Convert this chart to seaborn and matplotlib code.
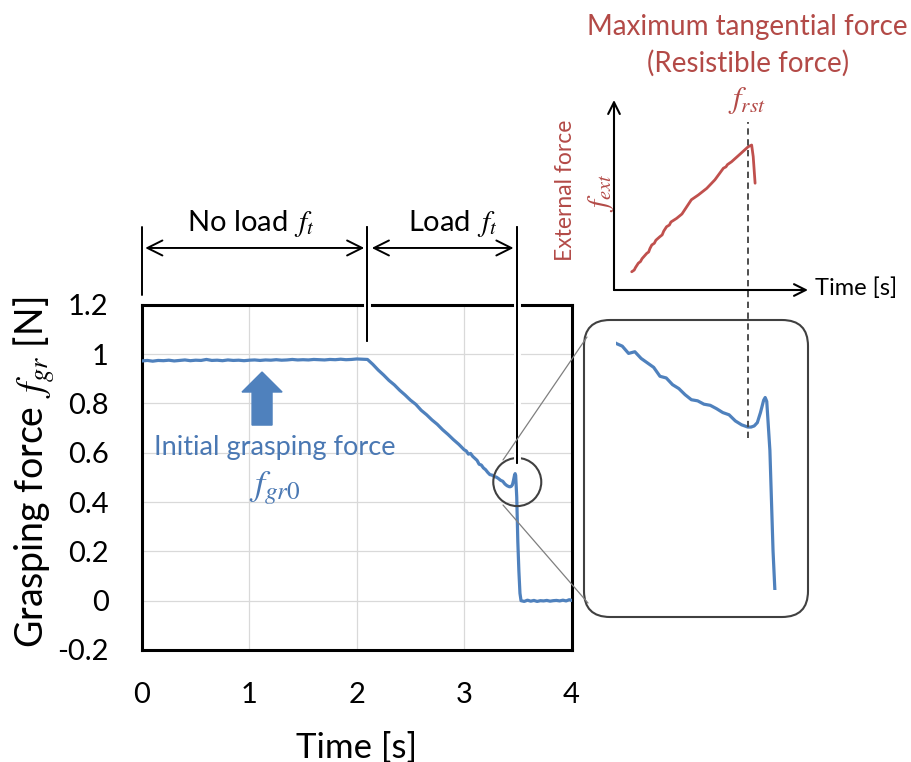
import matplotlib
matplotlib.use("Agg")
import matplotlib.pyplot as plt
from matplotlib.patches import Ellipse, FancyBboxPatch
from matplotlib import patheffects
import seaborn as sns

# ---- grasping force record (blue) ----
time_s = [
    0.00, 0.05, 0.10, 0.15, 0.20, 0.25, 0.30, 0.35, 0.40, 0.45,
    0.50, 0.55, 0.60, 0.65, 0.70, 0.75, 0.80, 0.85, 0.90, 0.95,
    1.00, 1.05, 1.10, 1.15, 1.20, 1.25, 1.30, 1.35, 1.40, 1.45,
    1.50, 1.55, 1.60, 1.65, 1.70, 1.75, 1.80, 1.85, 1.90, 1.95,
    2.00, 2.05, 2.10,
    2.15, 2.20, 2.25, 2.30, 2.35, 2.40, 2.45, 2.50, 2.55, 2.60,
    2.65, 2.70, 2.75, 2.80, 2.85, 2.90, 2.95,
    3.00, 3.02, 3.04, 3.06, 3.08, 3.10, 3.12, 3.14, 3.16, 3.18,
    3.20, 3.22, 3.24, 3.26, 3.28, 3.30, 3.32, 3.34, 3.36, 3.38,
    3.40, 3.42, 3.43, 3.44, 3.45, 3.46, 3.47, 3.475, 3.48, 3.49,
    3.50, 3.51, 3.52, 3.53,
    3.56, 3.59, 3.62, 3.65, 3.68, 3.71, 3.74, 3.77, 3.80, 3.83,
    3.86, 3.89, 3.92, 3.95, 3.98, 4.00,
]
grasp_force = [
    0.972, 0.974, 0.971, 0.974, 0.973, 0.975, 0.972, 0.974, 0.976, 0.973,
    0.975, 0.974, 0.978, 0.974, 0.975, 0.973, 0.976, 0.974, 0.975, 0.973,
    0.975, 0.976, 0.974, 0.976, 0.975, 0.977, 0.975, 0.976, 0.978, 0.976,
    0.977, 0.976, 0.978, 0.977, 0.976, 0.978, 0.977, 0.979, 0.977, 0.978,
    0.980, 0.979, 0.978,
    0.958, 0.935, 0.915, 0.893, 0.875, 0.853, 0.834, 0.813, 0.796, 0.772,
    0.754, 0.733, 0.715, 0.693, 0.674, 0.653, 0.634,
    0.612, 0.607, 0.594, 0.597, 0.585, 0.577, 0.569, 0.553, 0.550, 0.538,
    0.531, 0.520, 0.511, 0.509, 0.503, 0.501, 0.495, 0.488, 0.484, 0.473,
    0.466, 0.462, 0.462, 0.464, 0.470, 0.488, 0.510, 0.515, 0.508, 0.420,
    0.240, 0.120, 0.030, 0.000,
    -0.003, 0.002, -0.002, 0.001, -0.003, 0.000, -0.001, 0.001, -0.002, 0.000,
    0.001, -0.001, 0.002, -0.001, 0.004, 0.001,
]

# ---- external tangential force sketch (red), same time base ----
ext_time = [
    3.050, 3.058, 3.062, 3.071, 3.078, 3.083, 3.098, 3.104, 3.108, 3.114,
    3.122, 3.127, 3.140, 3.147, 3.152, 3.161, 3.170, 3.175, 3.193, 3.210,
    3.236, 3.240, 3.262, 3.289, 3.315, 3.342, 3.350, 3.355, 3.368, 3.395,
    3.421, 3.432, 3.437, 3.443,
]
ext_force = [
    0.096, 0.105, 0.118, 0.141, 0.150, 0.165, 0.193, 0.200, 0.218, 0.237,
    0.246, 0.262, 0.281, 0.290, 0.310, 0.333, 0.342, 0.358, 0.377, 0.400,
    0.465, 0.475, 0.500, 0.535, 0.580, 0.641, 0.648, 0.660, 0.675, 0.715,
    0.754, 0.763, 0.702, 0.562,
]

# phase boundaries and events
t_load = 2.10      # tangential load starts
t_slip = 3.49      # object slips out
t_rst = 3.42       # resistible force reached
f_initial = 0.975  # initial grasping force

x_ticks = [0, 1, 2, 3, 4]
x_tick_labels = ["0", "1", "2", "3", "4"]
y_ticks = [-0.2, 0.0, 0.2, 0.4, 0.6, 0.8, 1.0, 1.2]
y_tick_labels = ["-0.2", "0", "0.2", "0.4", "0.6", "0.8", "1", "1.2"]

BLUE = "#4f81bd"
TEXT_BLUE = "#4a78b3"
RED = "#c0504d"
TEXT_RED = "#b34a47"
GREY = "#404040"

sns.set_theme(style="white")
plt.rcParams["font.family"] = ["Lato", "DejaVu Sans"]
plt.rcParams["mathtext.fontset"] = "stix"

W, H = 911, 762
fig = plt.figure(figsize=(W / 100, H / 100), dpi=100)


def px_box(left, top, right, bottom):
    return [left / W, 1 - bottom / H, (right - left) / W, (bottom - top) / H]


# ---------------- main plot ----------------
ax = fig.add_axes(px_box(142, 304.7, 571.5, 650))
sns.lineplot(x=time_s, y=grasp_force, ax=ax, color=BLUE, linewidth=2.3,
             estimator=None, sort=False, zorder=4)
ax.set_xlim(0, 4)
ax.set_ylim(-0.2, 1.2)
ax.set_xticks(x_ticks)
ax.set_xticklabels(x_tick_labels)
ax.set_yticks(y_ticks)
ax.set_yticklabels(y_tick_labels)
ax.tick_params(axis="both", length=0, labelsize=21, colors="black")
ax.tick_params(axis="y", pad=24)
ax.tick_params(axis="x", pad=23)
ax.grid(True, color="#d9d9d9", linewidth=0.9)
for sp in ax.spines.values():
    sp.set_color("black")
    sp.set_linewidth(2.2)
ax.set_xlabel("Time [s]", fontsize=25, color="black", va="center")
ax.xaxis.set_label_coords(0.5, -0.283)
ax.set_ylabel(r"Grasping force $\,f_{gr}$ [N]", fontsize=27, color="black",
              va="center")
ax.yaxis.set_label_coords(-0.251, 0.515)

# phase boundary lines above the plot
white_edge = [patheffects.withStroke(linewidth=5, foreground="white"),
              patheffects.Normal()]
ax.plot([0, 0], [1.239, 1.514], color="black", lw=1.4, clip_on=False, zorder=6)
ax.plot([t_load, t_load], [1.053, 1.514], color="black", lw=1.4,
        clip_on=False, zorder=6, path_effects=white_edge)
ax.plot([t_slip, t_slip], [0.558, 1.514], color="black", lw=1.4,
        clip_on=False, zorder=6, path_effects=white_edge)

arrow_kw = dict(arrowstyle="<->,head_length=0.9,head_width=0.45",
                color="black", lw=1.4, shrinkA=0, shrinkB=0)
ax.annotate("", xy=(t_load - 0.03, 1.43), xytext=(0.03, 1.43),
            arrowprops=arrow_kw, annotation_clip=False)
ax.annotate("", xy=(t_slip - 0.03, 1.43), xytext=(t_load + 0.04, 1.43),
            arrowprops=arrow_kw, annotation_clip=False)
ax.text(1.015, 1.531, r"No load $\,f_t$", fontsize=21, ha="center",
        va="center", color="black", clip_on=False)
ax.text(2.89, 1.531, r"Load $\,f_t$", fontsize=21,
        ha="center", va="center", color="black", clip_on=False)

# marker circle around slip event
ax.add_patch(Ellipse((t_slip + 0.005, 0.481), 0.447, 0.195, fill=False,
                     edgecolor=GREY, lw=1.5, zorder=5, clip_on=False))

# initial grasping force callout
ax.arrow(1.118, 0.712, 0, f_initial - 0.048 - 0.712, width=0.186,
         head_width=0.373, head_length=0.081, length_includes_head=True,
         color=BLUE, zorder=5)
ax.text(1.24, 0.622, "Initial grasping force", fontsize=19.5, ha="center",
        va="center", color=TEXT_BLUE)
ax.text(1.24, 0.455, r"$f_{gr0}$", fontsize=26, ha="center", va="center",
        color=TEXT_BLUE)

# ---------------- magnified view of the slip region ----------------
ax_zoom = fig.add_axes(px_box(616, 335, 790, 590))
sns.lineplot(x=time_s, y=grasp_force, ax=ax_zoom, color=BLUE, linewidth=2.3,
             estimator=None, sort=False)
ax_zoom.set_xlim(3.0, 3.554)
ax_zoom.set_ylim(0.17, 0.627)
ax_zoom.axis("off")

# ---------------- external force sketch ----------------
ax_ext = fig.add_axes(px_box(614, 100, 808, 290))
sns.lineplot(x=ext_time, y=ext_force, ax=ax_ext, color=RED, linewidth=2.0,
             estimator=None, sort=False)
ax_ext.set_xlim(2.9936, 3.6115)
ax_ext.set_ylim(0, 1)
ax_ext.axis("off")
axis_arrow = dict(arrowstyle="->,head_length=0.7,head_width=0.35",
                  color="black", lw=1.5, shrinkA=0, shrinkB=0)
ax_ext.annotate("", xy=(0, 1), xytext=(0, 0), xycoords="axes fraction",
                arrowprops=axis_arrow)
ax_ext.annotate("", xy=(1, 0), xytext=(0, 0), xycoords="axes fraction",
                arrowprops=axis_arrow)
ax_ext.axvline(t_rst, ymin=-0.779, ymax=0.884, color=GREY, lw=1.3,
               linestyle=(0, (3.5, 2.5)), clip_on=False)

# ---------------- overlay for frames, connectors, labels ----------------
ov = fig.add_axes([0, 0, 1, 1], facecolor="none")
ov.set_xlim(0, W)
ov.set_ylim(H, 0)
ov.axis("off")
ov.set_zorder(10)

ov.add_patch(FancyBboxPatch((584, 320), 224, 297,
                            boxstyle="round,pad=0,rounding_size=26",
                            fill=False, edgecolor=GREY, lw=1.5))
ov.plot([503, 587], [460, 337], color="#7f7f7f", lw=0.9)
ov.plot([503, 588], [505, 603], color="#7f7f7f", lw=0.9)

ov.text(747, 27, "Maximum tangential force", fontsize=20, ha="center",
        va="center", color=TEXT_RED)
ov.text(748, 63, "(Resistible force)", fontsize=20, ha="center",
        va="center", color=TEXT_RED)
ov.text(747, 101, r"$f_{rst}$", fontsize=22, ha="center", va="center",
        color=TEXT_RED)
ov.text(565, 190, "External force", fontsize=16.5, ha="center", va="center",
        rotation=90, color=TEXT_RED)
ov.text(601, 193, r"$f_{ext}$", fontsize=21, ha="center", va="center",
        rotation=90, color=TEXT_RED)
ov.text(815, 288, "Time [s]", fontsize=17, ha="left", va="center",
        color="black")

fig.savefig("out.png", dpi=100)
